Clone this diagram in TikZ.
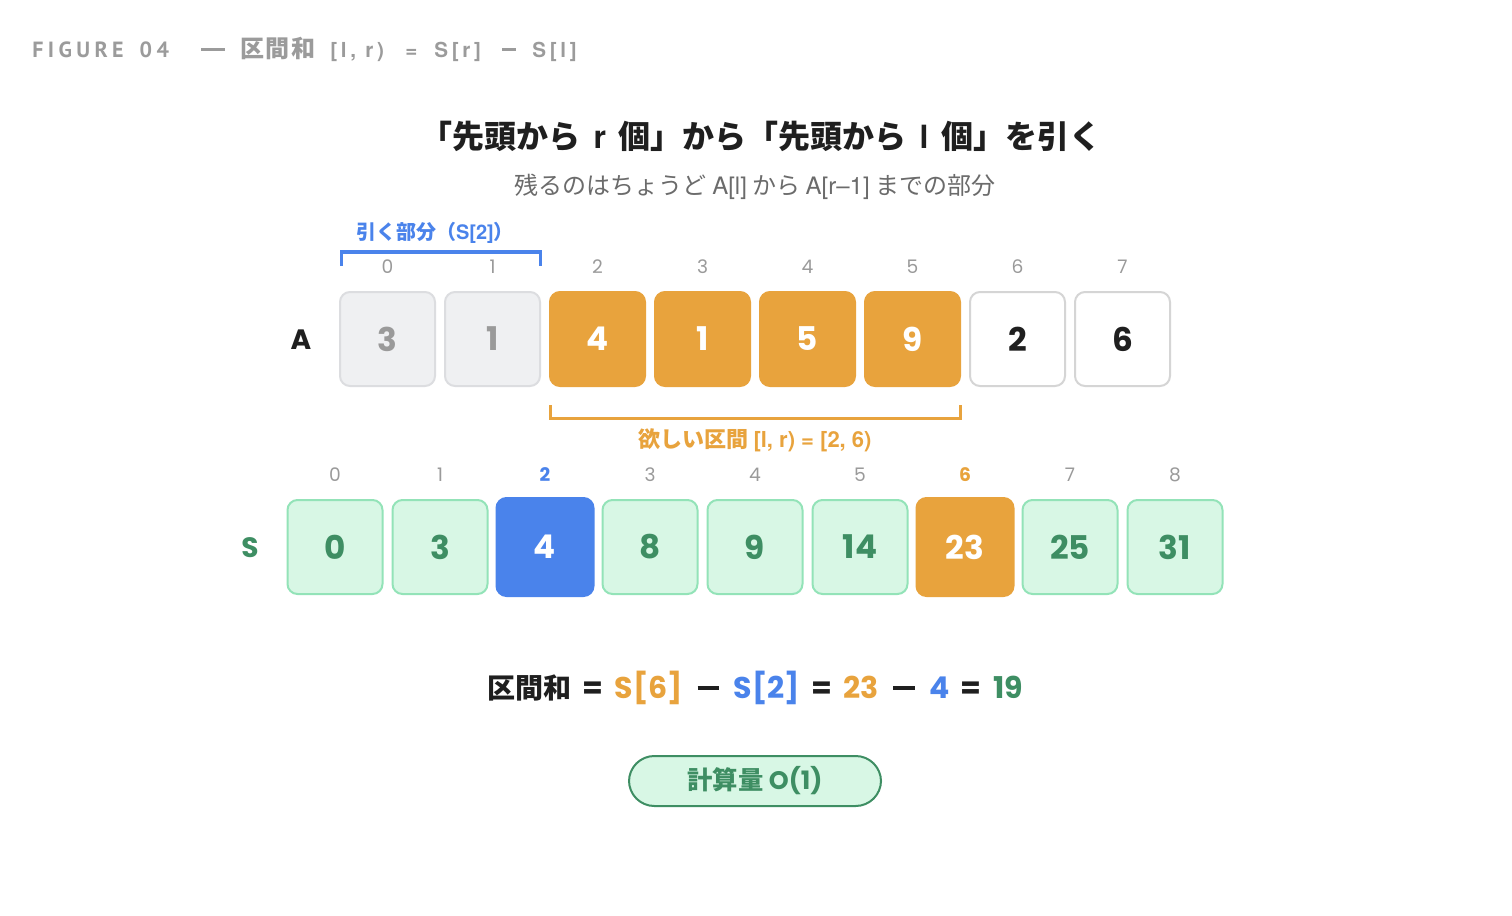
\documentclass[tikz,border=0pt]{standalone}
\usepackage{fontspec}
\setmainfont{Poppins}
\newfontfamily\jp{Noto Sans CJK JP}
\newfontfamily\lat{TeX Gyre Heros}
\newfontfamily\tlat[LetterSpace=20]{PT Sans}
\newfontfamily\thv[LetterSpace=18]{TeX Gyre Heros}
\newfontfamily\tjp[LetterSpace=6]{Noto Sans CJK JP}
\definecolor{cOrange}{HTML}{E8A33D}
\definecolor{cBlue}{HTML}{4A83EB}
\definecolor{cGreen}{HTML}{3E8E63}
\definecolor{cGreenFill}{HTML}{D8F7E5}
\definecolor{cGreenLine}{HTML}{93E3B8}
\definecolor{cGrayFill}{HTML}{EFF0F2}
\definecolor{cGrayLine}{HTML}{DCDDE0}
\definecolor{cGrayText}{HTML}{9A9A9A}
\definecolor{cWhiteLine}{HTML}{D5D5D5}
\definecolor{cTitle}{HTML}{9B9B9B}
\definecolor{cSub}{HTML}{6B6B6B}
\definecolor{cInk}{HTML}{1F1F1F}
\newcommand\pxfont[1]{\fontsize{#1}{#1}\selectfont}
\newcommand\mminus{\hspace{11pt}\rule[6.6pt]{16pt}{2.6pt}\hspace{11pt}}
\newcommand\meq{\hspace{8.5pt}=\hspace{8.5pt}}
\tikzset{
  cellbox/.style={rounded corners=7.5pt, minimum width=71.25pt, minimum height=70.5pt, line width=1.5pt, inner sep=0pt, font=\pxfont{24.5pt}\bfseries},
  grayc/.style={cellbox, fill=cGrayFill, draw=cGrayLine, text=cGrayText},
  orangec/.style={cellbox, fill=cOrange, draw=cOrange, text=white},
  whitec/.style={cellbox, fill=white, draw=cWhiteLine, text=cInk},
  greenc/.style={cellbox, fill=cGreenFill, draw=cGreenLine, text=cGreen},
  hiblue/.style={cellbox, fill=cBlue, draw=cBlue, text=white, minimum width=72.75pt, minimum height=73.5pt},
  hiorange/.style={cellbox, fill=cOrange, draw=cOrange, text=white, minimum width=72.75pt, minimum height=73.5pt},
  idx/.style={font=\pxfont{14pt}, text=cGrayText, inner sep=0pt},
  bracketline/.style={line width=2.25pt},
  tpart/.style={anchor=base west, inner sep=0pt, text=cTitle, font=\bfseries\thv\pxfont{15.5pt}},
}
\begin{document}
\begin{tikzpicture}[x=0.75pt, y=-0.75pt]
\useasboundingbox (0,0) rectangle (1512,916);
\fill[white] (0,0) rectangle (1512,916);

% title
\node[tpart, font=\bfseries\tlat\pxfont{16.5pt}] (t1) at (32,57.5) {FIGURE\hspace{12pt}04};
\node[tpart] (t2) at (201,57.5) {\textcolor{cTitle}{\rule[5.2pt]{18pt}{1.6pt}}};
\node[tpart, font=\bfseries\tjp\pxfont{18pt}] (t3) at (240,57.5) {区間和};
\node[tpart] (t4) at (330,57.5) {[l,\hspace{7pt}r)};
\node[tpart] (t5) at (405,57.5) {=};
\node[tpart] (t6) at (434,57.5) {S[r]};
\node[tpart] (t7) at (502,57.5) {\textcolor{cTitle}{\rule[5.2pt]{10pt}{1.6pt}}};
\node[tpart] (t8) at (532,57.5) {S[l]};

% heading and subtitle
\node[inner sep=0pt, text=cInk, font=\jp\bfseries\pxfont{24pt}] (head) at (761,136)
  {「先頭から\hspace{0.4em}{\lat r}\hspace{0.4em}個」から「先頭から\hspace{0.4em}{\lat l}\hspace{0.4em}個」を引く};
\node[inner sep=0pt, text=cSub, font=\jp\pxfont{18pt}] (sub) at (755,187)
  {残るのはちょうど {\lat A[l]} から {\lat A[r–1]} までの部分};

% blue bracket and label
\node[inner sep=0pt, text=cBlue, font=\jp\bfseries\pxfont{15pt}] (sublabel) at (435,233) {引く部分（{\lat S[2]}）};
\draw[bracketline, cBlue] (341,266) -- (341,252) -- (540,252) -- (540,266);

% A row
\node[font=\pxfont{21pt}\bfseries, text=cInk, inner sep=0pt] (Alab) at (301,340) {A};
\foreach \i/\v/\s in {0/3/grayc,1/1/grayc,2/4/orangec,3/1/orangec,4/5/orangec,5/9/orangec,6/2/whitec,7/6/whitec}{
  \node[\s] (a\i) at (387.5+105*\i,339) {\v};
  \node[idx] (ai\i) at (387.5+105*\i,267) {\i};
}

% orange bracket and label
\draw[bracketline, cOrange] (550,405) -- (550,418) -- (960,418) -- (960,405);
\node[inner sep=0pt, text=cOrange, font=\jp\bfseries\pxfont{16.5pt}] (want) at (755,440) {欲しい区間 {\lat [l, r) = [2, 6)}};

% S row
\node[font=\pxfont{21pt}\bfseries, text=cGreen, inner sep=0pt] (Slab) at (250,548) {S};
\foreach \i/\v/\s in {0/0/greenc,1/3/greenc,2/4/hiblue,3/8/greenc,4/9/greenc,5/14/greenc,6/23/hiorange,7/25/greenc,8/31/greenc}{
  \node[\s] (s\i) at (335+105*\i,547) {\v};
}
\foreach \i in {0,1,3,4,5,7,8}{
  \node[idx] (si\i) at (335+105*\i,475) {\i};
}
\node[idx, text=cBlue, font=\pxfont{14pt}\bfseries] (si2) at (545,475) {2};
\node[idx, text=cOrange, font=\pxfont{14pt}\bfseries] (si6) at (965,475) {6};

% formula
\node[inner sep=0pt, text=cInk, font=\pxfont{22.5pt}\bfseries] (formula) at (755,688)
  {{\jp\pxfont{21pt}区間和}\meq{\color{cOrange}S[6]}\mminus{\color{cBlue}S[2]}\meq{\color{cOrange}23}\mminus{\color{cBlue}4}\meq{\color{cGreen}19}};

% badge
\node[rounded corners=19pt, minimum width=189pt, minimum height=37.5pt, fill=cGreenFill, draw=cGreen, line width=1.5pt, text=cGreen, font=\pxfont{19pt}\bfseries] (badge) at (755,781) {{\jp 計算量} O(1)};
\end{tikzpicture}
\end{document}
